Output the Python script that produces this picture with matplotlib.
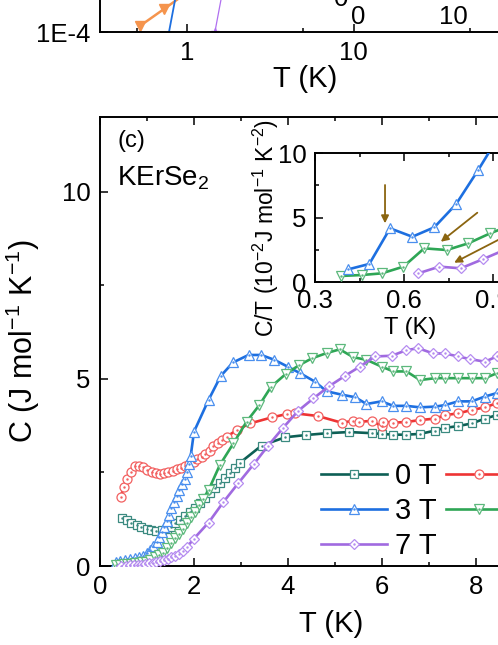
import matplotlib
matplotlib.use('Agg')
import matplotlib.pyplot as plt
from matplotlib.lines import Line2D
from matplotlib.legend_handler import HandlerTuple
from matplotlib.ticker import FixedLocator, NullLocator, NullFormatter

plt.rcParams['font.family'] = ['Liberation Sans', 'DejaVu Sans']
plt.rcParams['mathtext.fontset'] = 'custom'
plt.rcParams['mathtext.rm'] = 'Liberation Sans'
plt.rcParams['mathtext.it'] = 'Liberation Sans:italic'
plt.rcParams['mathtext.bf'] = 'Liberation Sans:bold'

# ---------------- data: main panel (c), C vs T ----------------
T_0T = [0.46, 0.57, 0.67, 0.78, 0.88, 0.99, 1.09, 1.20, 1.31, 1.42, 1.50, 1.60, 1.70, 1.81,
        1.91, 2.02, 2.13, 2.23, 2.34, 2.45, 2.55, 2.66, 2.77, 2.87, 2.98, 3.44, 3.94, 4.38,
        4.84, 5.30, 5.78, 5.99, 6.24, 6.52, 6.81, 7.13, 7.34, 7.62, 7.91, 8.19, 8.44, 8.75, 9.10]
C_0T = [1.27, 1.23, 1.16, 1.10, 1.03, 0.99, 0.96, 0.94, 0.96, 1.00, 1.05, 1.14, 1.23, 1.34,
        1.45, 1.56, 1.69, 1.81, 1.94, 2.08, 2.21, 2.34, 2.48, 2.61, 2.76, 3.22, 3.44, 3.50,
        3.55, 3.58, 3.55, 3.53, 3.51, 3.51, 3.53, 3.62, 3.69, 3.74, 3.81, 3.94, 4.03, 4.10, 4.20]

T_1T = [0.44, 0.51, 0.57, 0.65, 0.74, 0.84, 0.92, 1.01, 1.10, 1.19, 1.28, 1.37, 1.45, 1.55,
        1.63, 1.72, 1.81, 1.90, 1.99, 2.07, 2.16, 2.24, 2.33, 2.41, 2.50, 2.59, 2.70, 2.92,
        3.19, 3.65, 3.97, 4.15, 4.63, 5.14, 5.39, 5.50, 5.78, 5.99, 6.02, 6.24, 6.52, 6.81,
        7.13, 7.34, 7.62, 7.91, 8.19, 8.44, 8.75, 9.10]
C_1T = [1.85, 2.12, 2.32, 2.52, 2.66, 2.67, 2.64, 2.57, 2.50, 2.48, 2.45, 2.48, 2.50, 2.55,
        2.58, 2.63, 2.67, 2.72, 2.79, 2.85, 2.92, 3.00, 3.08, 3.20, 3.30, 3.37, 3.46, 3.64,
        3.81, 3.97, 4.06, 4.08, 4.01, 3.83, 3.88, 3.85, 3.88, 3.74, 3.86, 3.83, 3.85, 3.90,
        3.94, 4.03, 4.08, 4.17, 4.24, 4.35, 4.45, 4.55]

T_3T = [0.34, 0.43, 0.53, 0.64, 0.74, 0.84, 0.92, 0.99, 1.06, 1.13, 1.21, 1.26, 1.32, 1.37,
        1.42, 1.47, 1.52, 1.57, 1.63, 1.69, 1.74, 1.80, 1.86, 1.90, 1.93, 2.00, 2.31, 2.57,
        2.83, 3.16, 3.43, 3.71, 3.99, 4.26, 4.57, 4.82, 5.14, 5.43, 5.67, 5.99, 6.24, 6.52,
        6.81, 7.13, 7.34, 7.62, 7.91, 8.19, 8.44, 8.75, 9.10]
C_3T = [0.12, 0.14, 0.16, 0.19, 0.21, 0.23, 0.27, 0.34, 0.43, 0.54, 0.65, 0.78, 0.92, 1.05,
        1.20, 1.36, 1.54, 1.72, 1.87, 2.03, 2.18, 2.32, 2.52, 2.73, 2.94, 3.59, 4.44, 5.08,
        5.44, 5.64, 5.64, 5.51, 5.33, 5.15, 4.93, 4.67, 4.58, 4.51, 4.33, 4.40, 4.28, 4.28,
        4.24, 4.26, 4.30, 4.40, 4.40, 4.53, 4.62, 4.70, 4.80]

T_5T = [0.34, 0.42, 0.50, 0.58, 0.66, 0.74, 0.82, 0.90, 0.98, 1.06, 1.17, 1.26, 1.35, 1.43,
        1.52, 1.60, 1.69, 1.77, 1.86, 1.94, 2.02, 2.11, 2.20, 2.31, 2.55, 2.84, 3.12, 3.39,
        3.64, 3.96, 4.24, 4.51, 4.82, 5.10, 5.39, 5.67, 5.99, 6.24, 6.52, 6.81, 7.13, 7.34,
        7.62, 7.91, 8.19, 8.44, 8.75, 9.10]
C_5T = [0.03, 0.04, 0.05, 0.05, 0.06, 0.07, 0.08, 0.10, 0.12, 0.16, 0.23, 0.29, 0.36, 0.47,
        0.61, 0.74, 0.85, 1.00, 1.16, 1.32, 1.45, 1.62, 1.80, 2.03, 2.70, 3.28, 3.86, 4.30,
        4.79, 5.14, 5.37, 5.55, 5.69, 5.79, 5.58, 5.51, 5.33, 5.20, 5.20, 4.97, 5.02, 5.02,
        5.02, 5.02, 5.02, 5.15, 5.10, 5.15]

T_7T = [0.45, 0.55, 0.64, 0.72, 0.80, 0.88, 0.96, 1.04, 1.12, 1.20, 1.28, 1.36, 1.44, 1.52,
        1.60, 1.68, 1.77, 1.86, 1.99, 2.31, 2.62, 2.94, 3.27, 3.58, 3.90, 4.22, 4.54, 4.87,
        5.21, 5.53, 5.85, 6.21, 6.52, 6.77, 7.09, 7.34, 7.62, 7.87, 8.19, 8.44, 8.75, 9.10]
C_7T = [0.00, 0.01, 0.02, 0.02, 0.03, 0.04, 0.05, 0.07, 0.09, 0.11, 0.13, 0.16, 0.19, 0.23,
        0.28, 0.33, 0.40, 0.52, 0.72, 1.16, 1.70, 2.21, 2.72, 3.22, 3.70, 4.15, 4.48, 4.80,
        5.08, 5.33, 5.60, 5.62, 5.77, 5.82, 5.68, 5.68, 5.60, 5.53, 5.46, 5.60, 5.55, 5.50]

# ---------------- data: inset, C/T (1e-2 J/mol K^2) vs T ----------------
Ti_3T = [0.412, 0.483, 0.553, 0.628, 0.702, 0.775, 0.850, 0.925]
CTi_3T = [0.98, 1.40, 4.16, 3.51, 4.24, 6.02, 8.68, 11.5]
Ti_5T = [0.388, 0.457, 0.525, 0.598, 0.668, 0.744, 0.817, 0.890, 0.960]
CTi_5T = [0.47, 0.54, 0.67, 1.19, 2.61, 2.48, 3.00, 3.77, 4.40]
Ti_7T = [0.648, 0.719, 0.791, 0.865, 0.940]
CTi_7T = [0.67, 1.19, 1.06, 1.76, 2.50]
arrows_start = [(0.536, 7.52), (0.847, 5.37), (0.967, 3.85)]
arrows_end = [(0.536, 4.55), (0.724, 3.12), (0.769, 1.50)]

# ---------------- data: cropped upper panel (log-log) ----------------
T_top_orange = [0.521, 0.727, 0.972]
Y_top_orange = [1.37e-4, 3.33e-4, 7.3e-4]
T_top_blue = [0.773, 0.883]
Y_top_blue = [8.55e-5, 1.23e-3]
T_top_purple = [1.47, 1.64]
Y_top_purple = [1.0e-4, 9.0e-4]

labels = ['0 T', '3 T', '7 T', '1 T', '5 T']

# ---------------- styles ----------------
C0L, C0M = '#0d5f55', '#3b8a80'
C1L, C1M = '#ee3434', '#f26060'
C3L, C3M = '#1d6fe0', '#4a8fee'
C5L, C5M = '#2ea655', '#5cb87c'
C7L, C7M = '#a06ae0', '#b58cf0'
ARROW = '#8b6510'
TICKFS = 18.5
LEGFS = 21

W, H = 498, 645
fig = plt.figure(figsize=(W / 100, H / 100), dpi=100)


def box(l, t, r, b):
    return [l / W, 1 - b / H, (r - l) / W, (b - t) / H]


def series(ax, T, C, lc, mc, marker, ms, z):
    ax.plot(T, C, color=lc, lw=1.9, marker=marker, ms=ms, mfc='white', mec=mc,
            mew=0.9, zorder=z)
    ax.plot(T, C, ls='none', marker='.', ms=1.5, color=mc, zorder=z)


def style_ticks(ax, fs):
    ax.tick_params(which='both', direction='in', top=True, right=True,
                   width=1.1, labelsize=fs)
    ax.tick_params(which='major', length=5.5)
    ax.tick_params(which='minor', length=3)
    for s in ax.spines.values():
        s.set_linewidth(1.4)


# ---------------- upper (cropped) panel ----------------
ax3 = fig.add_axes(box(100, -100, 520, 32))
ax3.set_xscale('log')
ax3.set_yscale('log')
ax3.set_xlim(0.3, 100)
ax3.set_ylim(1e-4, 1e-1)
ax3.plot(T_top_orange, Y_top_orange, color='#f5944d', lw=1.8, marker='v', ms=7,
         mfc='#f5944d', mec='#f5944d')
ax3.plot(T_top_blue, Y_top_blue, color='#1d6fe0', lw=1.3)
ax3.plot(T_top_purple, Y_top_purple, color='#b070f0', lw=0.9, marker='*', ms=6)
ax3.xaxis.set_major_locator(FixedLocator([1, 10, 100]))
ax3.xaxis.set_minor_locator(FixedLocator([0.5, 5, 50]))
ax3.xaxis.set_minor_formatter(NullFormatter())
ax3.set_xticks([1, 10, 100], labels=['1', '10', '100'])
ax3.yaxis.set_minor_locator(NullLocator())
ax3.set_yticks([1e-4], labels=['1E-4'])
ax3.tick_params(which='both', direction='in', width=1.1, labelsize=TICKFS, pad=6.5)
ax3.tick_params(axis='y', pad=7)
ax3.tick_params(which='major', length=5.5)
ax3.tick_params(which='minor', length=3)
for s in ax3.spines.values():
    s.set_linewidth(1.4)
fig.text(305 / W, 1 - 87 / H, 'T (K)', fontsize=21, ha='center', va='baseline')

# inset of upper panel (only its tick labels fall inside the picture)
ax4 = fig.add_axes(box(358, -100, 548, -4))
ax4.set_xlim(0, 20)
ax4.set_ylim(0, 10)
ax4.set_xticks([0, 10, 20], labels=['0', '10', '20'])
ax4.set_yticks([0, 10], labels=['0', '10'])
ax4.tick_params(direction='in', labelsize=TICKFS, pad=6.5)
ax4.tick_params(axis='y', pad=7)

# ---------------- main panel (c) ----------------
ax = fig.add_axes(box(100, 117, 570, 566))
ax.set_xlim(0, 10)
ax.set_ylim(0, 12)
series(ax, T_0T, C_0T, C0L, C0M, 's', 6.0, 3)
series(ax, T_1T, C_1T, C1L, C1M, 'o', 6.5, 4)
series(ax, T_3T, C_3T, C3L, C3M, '^', 7.0, 5)
series(ax, T_5T, C_5T, C5L, C5M, 'v', 7.0, 6)
series(ax, T_7T, C_7T, C7L, C7M, 'D', 5.5, 7)
ax.set_xticks([0, 2, 4, 6, 8, 10])
ax.set_xticks([1, 3, 5, 7, 9], minor=True)
ax.set_yticks([0, 5, 10])
ax.set_yticks([2.5, 7.5], minor=True)
style_ticks(ax, TICKFS)
ax.tick_params(axis='x', pad=6.5)
ax.tick_params(axis='y', pad=7)

fig.text(331 / W, 1 - 632 / H, 'T (K)', fontsize=21, ha='center', va='baseline')
fig.text(23 / W, 1 - 341 / H, 'C (J mol$^{-1}$ K$^{-1}$)', fontsize=22,
         rotation=90, ha='center', va='center')
fig.text(117 / W, 1 - 147 / H, '(c)', fontsize=17, ha='left', va='baseline')
fig.text(117 / W, 1 - 185 / H, 'KErSe$_2$', fontsize=20, ha='left', va='baseline')

spec = [(C0L, C0M, 's', 6.0), (C3L, C3M, '^', 7.0), (C7L, C7M, 'D', 5.5),
        (C1L, C1M, 'o', 6.5), (C5L, C5M, 'v', 7.0)]
handles = []
for lc, mc, mk, ms in spec:
    h1 = Line2D([], [], color=lc, lw=1.9, marker=mk, ms=ms, mfc='white', mec=mc, mew=0.9)
    h2 = Line2D([], [], ls='none', marker='.', ms=1.5, color=mc)
    handles.append((h1, h2))


def make_legend(top_px, lspace):
    return ax.legend(handles, labels, ncol=2,
                     handler_map={tuple: HandlerTuple(ndivide=1, pad=0)},
                     loc='upper left', bbox_to_anchor=(321 / W, 1 - top_px / H),
                     bbox_transform=fig.transFigure, borderpad=0, borderaxespad=0,
                     frameon=False, handlelength=2.27, handletextpad=0.25,
                     columnspacing=0.35, labelspacing=lspace, fontsize=LEGFS,
                     numpoints=1)


# place legend rows at the reference row centres (476, 511, 546 px from top)
fs_px = LEGFS * 100 / 72
top, ls = 459.0, 0.05
for _ in range(3):
    leg = make_legend(top, ls)
    fig.canvas.draw()
    r = fig.canvas.get_renderer()
    e0 = leg.get_texts()[0].get_window_extent(r)
    e1 = leg.get_texts()[1].get_window_extent(r)
    c0 = H - (e0.y0 + e0.y1) / 2
    pitch = (e0.y0 + e0.y1) / 2 - (e1.y0 + e1.y1) / 2
    ls = ls + (35.0 - pitch) / fs_px
    top = top + (476.0 - c0)
    leg.remove()
leg = make_legend(top, ls)

# ---------------- inset of panel (c) ----------------
ax2 = fig.add_axes(box(315, 153, 522.7, 282))
ax2.set_xlim(0.3, 1.0)
ax2.set_ylim(0, 10)
series(ax2, Ti_5T, CTi_5T, C5L, C5M, 'v', 7.0, 3)
series(ax2, Ti_7T, CTi_7T, C7L, C7M, 'D', 5.5, 4)
series(ax2, Ti_3T, CTi_3T, C3L, C3M, '^', 7.0, 5)
for (x0, y0), (x1, y1) in zip(arrows_start, arrows_end):
    ax2.annotate('', xy=(x1, y1), xytext=(x0, y0),
                 arrowprops=dict(arrowstyle='-|>', color=ARROW, lw=1.3,
                                 mutation_scale=11, shrinkA=0, shrinkB=0), zorder=8)
ax2.set_xticks([0.3, 0.6, 0.9], labels=['0.3', '0.6', '0.9'])
ax2.set_xticks([0.45, 0.75], minor=True)
ax2.set_yticks([0, 5, 10])
ax2.set_yticks([2.5, 7.5], minor=True)
style_ticks(ax2, TICKFS)
ax2.tick_params(axis='x', pad=5)
ax2.tick_params(axis='y', pad=6)
fig.text(410 / W, 1 - 334 / H, 'T (K)', fontsize=17, ha='center', va='baseline')
fig.text(266 / W, 1 - 228 / H, 'C/T (10$^{-2}$J mol$^{-1}$ K$^{-2}$)', fontsize=16.5,
         rotation=90, ha='center', va='center')

fig.savefig('out.png', dpi=100)
